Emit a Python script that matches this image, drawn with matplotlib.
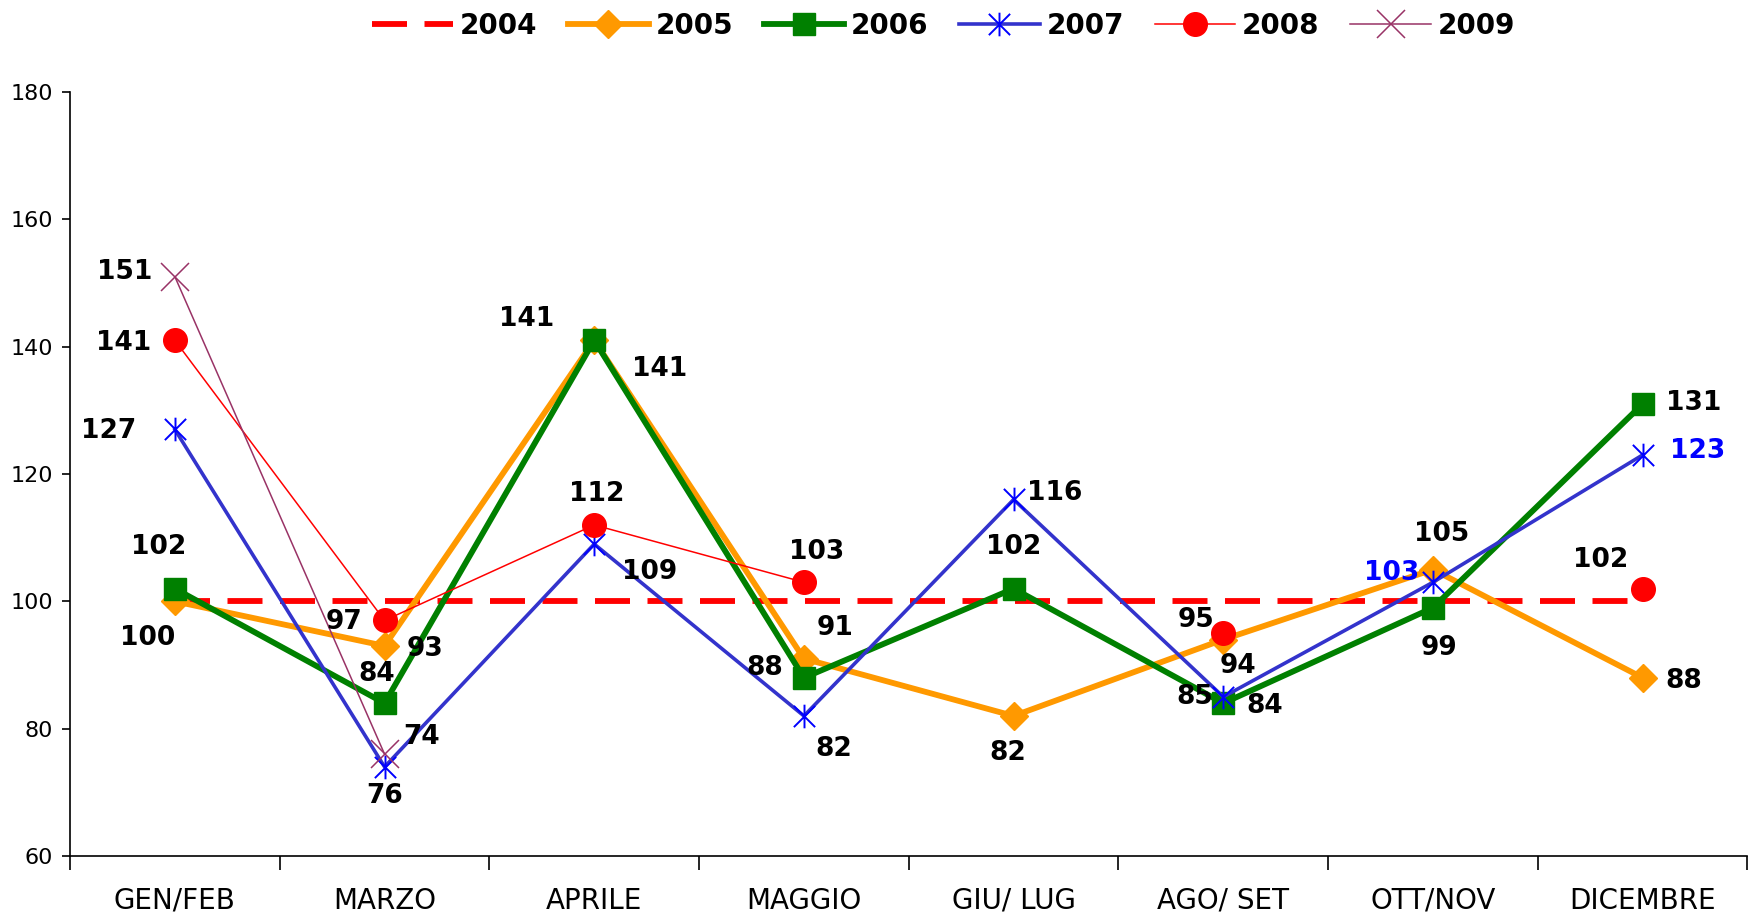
import numpy as np
import matplotlib
matplotlib.use("Agg")
import matplotlib.pyplot as plt
from matplotlib.path import Path

plt.rcParams['font.family'] = ['DejaVu Sans']

categories = ['GEN/FEB', 'MARZO', 'APRILE', 'MAGGIO', 'GIU/ LUG', 'AGO/ SET', 'OTT/NOV', 'DICEMBRE']
years = ['2004', '2005', '2006', '2007', '2008', '2009']

v2004 = [100, 100, 100, 100, 100, 100, 100, 100]
v2005 = [100, 93, 141, 91, 82, 94, 105, 88]
v2006 = [102, 84, 141, 88, 102, 84, 99, 131]
v2007 = [127, 74, 109, 82, 116, 85, 103, 123]
v2008 = [141, 97, 112, 103, np.nan, 95, np.nan, 102]
v2009 = [151, 76, np.nan, np.nan, np.nan, np.nan, np.nan, np.nan]

# etichette: (indice categoria, testo, offset in pixel)
labels_2005 = [(0, '100', (-27, -37)), (1, '93', (40, -3)), (2, '141', (-68, 21)),
               (3, '91', (31, 31)), (4, '82', (-6, -37)), (5, '94', (15, -26)),
               (6, '105', (9, 36)), (7, '88', (41, -3))]
labels_2006 = [(0, '102', (-16, 42)), (1, '84', (-8, 29)), (2, '141', (65, -29)),
               (3, '88', (-39, 10)), (4, '102', (0, 42)), (5, '84', (41, -3)),
               (6, '99', (6, -40)), (7, '131', (51, 1))]
labels_2007 = [(0, '127', (-66, -2)), (1, '74', (37, 30)), (2, '109', (55, -28)),
               (3, '82', (30, -33)), (4, '116', (41, 6)), (5, '85', (-29, 0)),
               (6, '103', (-41, 9)), (7, '123', (55, 4))]
labels_2008 = [(0, '141', (-51, -3)), (1, '97', (-41, -2)), (2, '112', (2, 31)),
               (3, '103', (13, 30)), (5, '95', (-27, 13)), (7, '102', (-42, 29))]
labels_2009 = [(0, '151', (-50, 5)), (1, '76', (0, -42))]

x = np.arange(len(categories))

# marcatore asterisco (verticale + X) come Excel
star = Path([(0, -1), (0, 1), (-0.9, -0.9), (0.9, 0.9), (-0.9, 0.9), (0.9, -0.9)],
            [Path.MOVETO, Path.LINETO, Path.MOVETO, Path.LINETO, Path.MOVETO, Path.LINETO])

fig = plt.figure(figsize=(17.51, 9.16), dpi=100)
ax = fig.add_axes([0.040, 0.0655, 0.958, 0.834])

l04, = ax.plot(x, v2004, color='#FF0000', lw=4.2, label='2004')
l04.set_dashes([6, 3])
ax.plot(x, v2005, color='#FF9900', lw=4.2, marker='D', ms=14, label='2005')
ax.plot(x, v2006, color='#008000', lw=4.2, marker='s', ms=16, label='2006')
ax.plot(x, v2007, color='#3333CC', lw=2.6, marker=star, ms=17, mec='#0000FF', mew=1.4,
        label='2007')
ax.plot(x, v2008, color='#FF0000', lw=1.1, marker='o', ms=17, label='2008')
ax.plot(x, v2009, color='#993366', lw=1.1, marker='x', ms=20, mew=1.1, label='2009')

def put_labels(values, items, color='black'):
    for i, txt, off in items:
        ax.annotate(txt, xy=(x[i], values[i]), xytext=off, textcoords='offset pixels',
                    ha='center', va='center', fontsize=19, fontweight='bold', color=color)

put_labels(v2005, labels_2005)
put_labels(v2006, labels_2006)
put_labels(v2007, [l for l in labels_2007 if l[0] not in (6, 7)])
put_labels(v2007, [l for l in labels_2007 if l[0] in (6, 7)], color='#0000FF')
put_labels(v2008, labels_2008)
put_labels(v2009, labels_2009)

ax.set_xlim(-0.5, 7.5)
ax.set_ylim(60, 180)
ax.set_yticks(np.arange(60, 181, 20))
ax.set_xticks(x)
ax.set_xticklabels(categories)
ax.set_xticks(np.arange(-0.5, 8, 1), minor=True)
ax.tick_params(axis='x', which='major', length=0, pad=22, labelsize=20)
ax.tick_params(axis='x', which='minor', length=10, width=1.2, direction='out')
ax.tick_params(axis='y', length=6, width=1.2, pad=6, labelsize=16)

for s in ['top', 'right']:
    ax.spines[s].set_visible(False)
for s in ['left', 'bottom']:
    ax.spines[s].set_linewidth(1.2)

leg = fig.legend(loc='center', bbox_to_anchor=(0.539, 0.972), ncol=6, frameon=False,
                 prop={'size': 20, 'weight': 'bold'}, handlelength=2.9,
                 handletextpad=0.25, columnspacing=1.1)

plt.savefig('out.png', dpi=100)
